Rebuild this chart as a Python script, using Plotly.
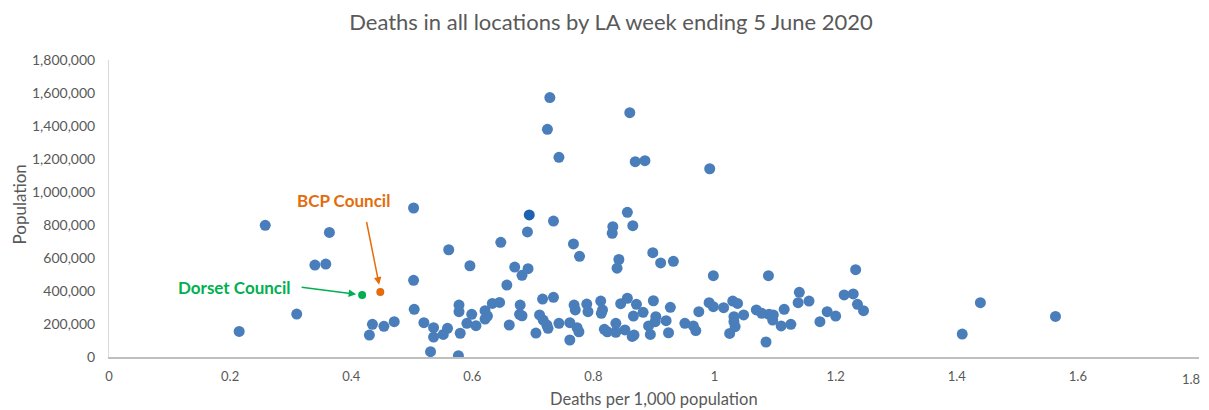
import plotly.graph_objects as go

# Local authorities: deaths per 1,000 population vs population
deaths_per_1000 = [
    0.215, 0.258, 0.310, 0.340, 0.358, 0.364, 0.430, 0.435, 0.454, 0.471,
    0.503, 0.503, 0.504, 0.520, 0.536, 0.536, 0.552, 0.559, 0.531, 0.577,
    0.578, 0.578, 0.580, 0.591, 0.599, 0.606, 0.621, 0.625, 0.621, 0.633,
    0.645, 0.657, 0.661, 0.670, 0.692, 0.682, 0.679, 0.678, 0.682, 0.705,
    0.711, 0.716, 0.734, 0.717, 0.723, 0.725, 0.561, 0.596, 0.647, 0.691,
    0.724, 0.728, 0.743, 0.734, 0.767, 0.777, 0.860, 0.869, 0.885, 0.856,
    0.832, 0.831, 0.865, 0.842, 0.839, 0.898, 0.911, 0.932, 0.992, 1.233,
    0.998, 0.768, 0.770, 0.789, 0.791, 0.812, 0.815, 0.813, 0.845, 0.856,
    0.871, 0.866, 0.882, 0.899, 0.903, 0.902, 0.920, 0.927, 0.924, 0.894,
    0.891, 0.867, 0.864, 0.852, 0.837, 0.837, 0.818, 0.823, 0.743, 0.761,
    0.773, 0.776, 0.761, 0.951, 0.965, 0.969, 0.974, 0.991, 0.998, 1.089,
    1.015, 1.030, 1.038, 1.032, 1.032, 1.034, 1.025, 1.048, 1.069, 1.078,
    1.090, 1.097, 1.096, 1.115, 1.110, 1.126, 1.085, 1.140, 1.138, 1.156,
    1.174, 1.186, 1.200, 1.214, 1.229, 1.236, 1.246, 1.409, 1.439, 1.563,
]
population = [
    155000, 798000, 260000, 557000, 563000, 755000, 133000, 198000, 186000, 214000,
    903000, 465000, 289000, 208000, 178000, 121000, 137000, 174000, 32000, 8000,
    315000, 275000, 144000, 204000, 259000, 190000, 281000, 248000, 230000, 325000,
    331000, 436000, 194000, 545000, 535000, 495000, 315000, 259000, 250000, 145000,
    255000, 351000, 362000, 224000, 194000, 174000, 650000, 553000, 695000, 758000,
    1380000, 1572000, 1210000, 824000, 685000, 610000, 1481000, 1184000, 1190000, 877000,
    790000, 750000, 796000, 591000, 538000, 632000, 570000, 580000, 1141000, 529000,
    493000, 315000, 285000, 321000, 275000, 339000, 285000, 265000, 323000, 356000,
    319000, 248000, 271000, 341000, 244000, 214000, 220000, 301000, 147000, 137000,
    188000, 133000, 125000, 164000, 204000, 150000, 168000, 153000, 204000, 208000,
    178000, 153000, 103000, 204000, 188000, 160000, 275000, 329000, 305000, 493000,
    299000, 339000, 325000, 244000, 214000, 184000, 143000, 255000, 285000, 265000,
    259000, 255000, 224000, 289000, 188000, 198000, 91000, 392000, 329000, 339000,
    214000, 275000, 248000, 376000, 382000, 319000, 281000, 139000, 329000, 246000,
]

highlight_x = [0.694]
highlight_y = [861000]

dorset_x = [0.418]
dorset_y = [376000]
bcp_x = [0.448]
bcp_y = [394000]

x_ticks = [0, 0.2, 0.4, 0.6, 0.8, 1, 1.2, 1.4, 1.6, 1.8]
x_tick_labels = ["0", "0.2", "0.4", "0.6", "0.8", "1", "1.2", "1.4", "1.6", "1.8"]
y_ticks = [0, 200000, 400000, 600000, 800000, 1000000, 1200000, 1400000, 1600000, 1800000]
y_tick_labels = ["0", "200,000", "400,000", "600,000", "800,000", "1,000,000",
                 "1,200,000", "1,400,000", "1,600,000", "1,800,000"]

BLUE = "#4A7EBB"
TEXT = "#595959"
FONT = "Lato, 'Open Sans', sans-serif"

# The page body has an 8px margin, so the figure is sized to fit the window
FIG_W, FIG_H = 1201, 402

fig = go.Figure()
fig.add_trace(go.Scatter(
    x=deaths_per_1000, y=population, mode="markers",
    marker=dict(color=BLUE, size=11, line=dict(width=0)),
    showlegend=False, hoverinfo="x+y",
))
fig.add_trace(go.Scatter(
    x=highlight_x, y=highlight_y, mode="markers",
    marker=dict(color="#1F63B0", size=11, line=dict(width=0)),
    showlegend=False,
))
fig.add_trace(go.Scatter(
    x=dorset_x, y=dorset_y, mode="markers",
    marker=dict(color="#00B050", size=8, line=dict(width=0)),
    showlegend=False,
))
fig.add_trace(go.Scatter(
    x=bcp_x, y=bcp_y, mode="markers",
    marker=dict(color="#E46C0A", size=8, line=dict(width=0)),
    showlegend=False,
))

# Annotation labels
fig.add_annotation(
    x=bcp_x[0], y=bcp_y[0], xref="x", yref="y",
    text="<b>BCP Council</b>", showarrow=False,
    xshift=-37, yshift=91,
    font=dict(family=FONT, size=17, color="#E46C0A"),
    yanchor="middle", xanchor="center",
)
fig.add_annotation(
    x=bcp_x[0], y=bcp_y[0] + 9000, xref="x", yref="y",
    text="", showarrow=True, arrowhead=2, arrowsize=1, arrowwidth=1.5,
    arrowcolor="#E46C0A", ax=-14, ay=-70, standoff=6,
)
fig.add_annotation(
    x=dorset_x[0], y=dorset_y[0], xref="x", yref="y",
    text="<b>Dorset Council</b>", showarrow=False,
    xshift=-128, yshift=7,
    font=dict(family=FONT, size=17, color="#00B050"),
    yanchor="middle", xanchor="center",
)
fig.add_annotation(
    x=dorset_x[0], y=dorset_y[0], xref="x", yref="y",
    text="", showarrow=True, arrowhead=2, arrowsize=1, arrowwidth=1.5,
    arrowcolor="#00B050", ax=-62, ay=-8, standoff=6,
)

# Last x tick label drawn right-aligned at its tick so it stays inside the window
tick_text_shown = x_tick_labels[:-1] + [""]
fig.add_annotation(
    x=x_ticks[-1], y=0, xref="x", yref="paper",
    text=x_tick_labels[-1], showarrow=False,
    xanchor="right", yanchor="top", xshift=3, yshift=-12,
    font=dict(family=FONT, size=13, color=TEXT),
)

# Axis titles
fig.add_annotation(
    x=0.5, y=0, xref="paper", yref="paper", yshift=-42,
    text="Deaths per 1,000 population", showarrow=False,
    font=dict(family=FONT, size=16.5, color=TEXT),
    xanchor="center", yanchor="middle",
)
fig.add_annotation(
    x=0, y=0.5, xref="paper", yref="paper", xshift=-90, yshift=4,
    text="Population", showarrow=False, textangle=-90,
    font=dict(family=FONT, size=17, color=TEXT),
    xanchor="center", yanchor="middle",
)

fig.update_layout(
    width=FIG_W, height=FIG_H,
    margin=dict(l=101, r=10, t=52, b=53, autoexpand=False),
    paper_bgcolor="white", plot_bgcolor="white",
    title=dict(
        text="Deaths in all locations by LA week ending 5 June 2020",
        x=603 / FIG_W, xanchor="center", y=1 - 14 / FIG_H, yanchor="middle",
        font=dict(family=FONT, size=22, color=TEXT),
    ),
    font=dict(family=FONT, color=TEXT, size=14),
    xaxis=dict(
        range=[0, 1.8], tickvals=x_ticks, ticktext=tick_text_shown,
        showgrid=False, zeroline=False, showline=True, linecolor="#BFBFBF",
        linewidth=1.5, ticks="", tickfont=dict(size=13, color=TEXT),
        ticklabelstandoff=7, automargin=False,
    ),
    yaxis=dict(
        range=[0, 1800000], tickvals=y_ticks, ticktext=y_tick_labels,
        showgrid=False, zeroline=False, showline=True, linecolor="#D9D9D9",
        linewidth=1, ticks="", tickfont=dict(size=14, color=TEXT),
        ticklabelstandoff=10, automargin=False,
    ),
)

fig.write_html("out.html")
